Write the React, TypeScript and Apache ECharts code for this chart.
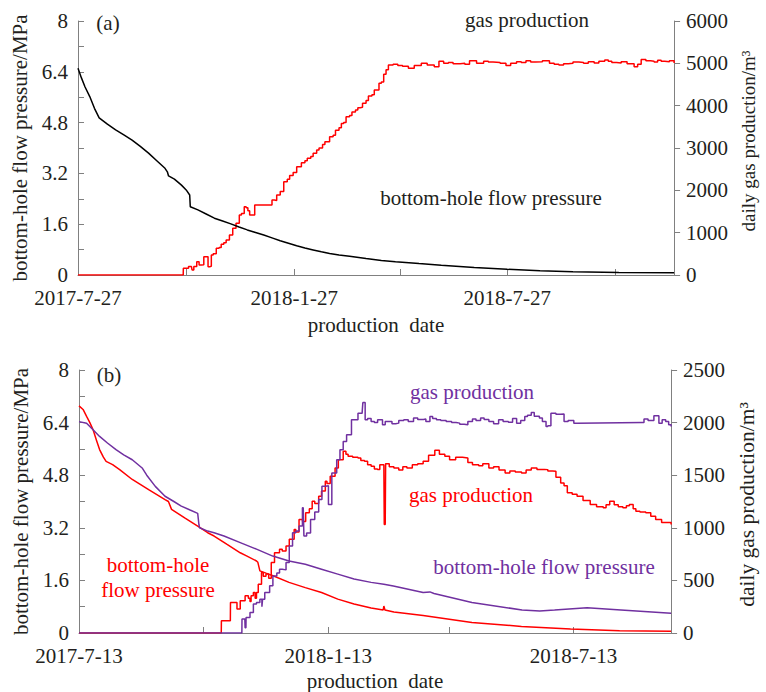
import React, { useEffect, useRef } from 'react';
import * as echarts from 'echarts';

// ---------- axis ticks / labels (x in days since first production date) ----------
const tickDaysA = [0, 92, 184, 274, 365, 457];
const labelDaysA = [0, 184, 365];
const labelTextA = ['2017-7-27', '2018-1-27', '2018-7-27'];
const maxDayA = 507;

const tickDaysB = [0, 92, 184, 273, 365];
const labelDaysB = [0, 184, 365];
const labelTextB = ['2017-7-13', '2018-1-13', '2018-7-13'];
const maxDayB = 437;

// ---------- (a) ----------
const pressureA: number[][] = [
  [0, 6.51], [3, 6.2], [6, 5.92], [10, 5.62], [14, 5.25], [18, 4.95], [25, 4.75], [32, 4.57], [39, 4.41],
  [46, 4.25], [53, 4.05], [60, 3.84], [67, 3.6], [74, 3.36], [76, 3.25], [77, 3.12], [82, 3.02], [88, 2.83],
  [92, 2.68], [95, 2.52], [95.5, 2.15], [102, 2.05], [109, 1.92], [116, 1.79], [123, 1.7], [130, 1.61],
  [137, 1.51], [144, 1.42], [151, 1.34], [158, 1.26], [165, 1.17], [172, 1.08], [179, 1.0], [186, 0.92],
  [193, 0.85], [200, 0.79], [207, 0.73], [214, 0.68], [222, 0.63], [231, 0.59], [245, 0.52], [258, 0.46],
  [270, 0.42], [290, 0.36], [309, 0.31], [337, 0.24], [365, 0.18], [393, 0.13], [421, 0.1], [460, 0.08], [507, 0.07],
];

const gasA: number[][] = [
  [0, 0], [89.5, 0], [89.6, 160], [94, 200], [96.5, 200], [97, 120], [98.5, 200], [101, 315], [103, 236], [105, 240],
  [107, 433], [110, 430], [110.6, 197], [112, 205], [113.4, 472], [115, 500], [117.6, 630], [120, 650], [121.8, 724],
  [124, 760], [126, 827], [128.8, 945], [131.6, 1102], [134.4, 1220], [137.2, 1417], [139, 1450], [141.4, 1614],
  [143, 1590], [144.5, 1520], [146, 1417], [148, 1420], [150.3, 1653], [163.7, 1653], [165, 1771], [167, 1760],
  [169, 1890], [172, 1970], [175, 2204], [178, 2260], [180, 2350], [183, 2420], [186, 2558], [190, 2650], [193, 2700],
  [195, 2760], [198, 2800], [200, 2874], [203, 2950], [205, 3000], [208, 3080], [210, 3150], [214, 3267], [217, 3300],
  [219, 3420], [222, 3480], [224, 3580], [226, 3600], [228, 3740], [231, 3770], [233, 3850], [236, 3900], [238, 3950],
  [240, 3960], [242, 4055], [245, 4120], [247, 4230], [250, 4260], [252, 4370], [256, 4528], [258, 4560], [260, 4740],
  [262, 4850], [264, 4960], [268, 4980], [272, 4950], [276, 4930], [281, 4885], [286, 4950], [292, 5000], [297, 4960],
  [303, 4920], [307, 5050], [311, 5000], [315, 5020], [319, 4990], [325, 5000], [329, 4980], [333, 5060], [339, 5000],
  [345, 5050], [349, 5030], [353, 5020], [359, 5000], [364, 4950], [368, 5000], [373, 5040], [377, 5020], [381, 5060],
  [385, 5030], [389, 5040], [395, 5060], [401, 5000], [405, 4980], [409, 4960], [413, 4990], [417, 5000], [421, 5030],
  [426, 5020], [430, 5000], [434, 5040], [439, 5010], [443, 5050], [448, 5080], [451, 5050], [454, 5020], [458, 5010],
  [462, 5040], [467, 4990], [473, 4920], [476, 4980], [479, 5090], [483, 5060], [487, 5050], [490, 5030], [493, 5070],
  [496, 5050], [499, 5040], [503, 5060], [507, 5010],
];

// ---------- (b) ----------
const pressureRedB: number[][] = [
  [0, 6.91], [3, 6.8], [5.6, 6.59], [8, 6.4], [10.4, 6.18], [13, 5.85], [15.2, 5.58], [18, 5.35], [20, 5.22],
  [24.8, 5.12], [30, 4.97], [39.3, 4.67], [51.4, 4.36], [63.5, 4.06], [66, 4.0], [68.3, 3.76], [78, 3.5], [87.6, 3.25],
  [95, 3.05], [99.7, 2.95], [109, 2.7], [119, 2.44], [124, 2.34], [131, 2.19], [132, 2.15], [133.5, 1.89], [138, 1.82],
  [143.2, 1.74], [155, 1.54], [167, 1.38], [179, 1.23], [191, 1.03], [203, 0.88], [215.6, 0.76], [224.5, 0.7],
  [225, 0.82], [225.8, 0.7], [232.4, 0.64], [254, 0.53], [290, 0.32], [326.6, 0.2], [362.8, 0.12], [399, 0.07], [437, 0.05],
];

const pressurePurpleB: number[][] = [
  [0, 6.43], [5.6, 6.38], [10, 6.2], [15.2, 5.98], [21, 5.78], [27.3, 5.58], [33, 5.42], [39.3, 5.27], [46.6, 5.02],
  [50, 4.8], [56.3, 4.46], [63.5, 4.16], [70, 4.0], [75.5, 3.86], [82, 3.74], [87.6, 3.64], [88.5, 3.3], [89, 3.2],
  [95, 3.1], [99.7, 3.05], [107, 2.95], [119, 2.75], [131, 2.55], [143, 2.34], [155, 2.19], [167, 2.09], [179, 1.94],
  [191, 1.79], [203, 1.64], [215.6, 1.54], [225, 1.48], [232, 1.43], [254, 1.23], [259, 1.25], [262, 1.2], [290, 0.93],
  [327, 0.7], [340, 0.67], [351, 0.7], [375, 0.77], [400, 0.7], [437, 0.6],
];

const gasRedB: number[][] = [
  [0, 0], [105, 0], [105.1, 117], [111.7, 117], [111.8, 290], [114, 290], [116.6, 227], [119, 306], [122.6, 353],
  [125, 330], [126.2, 300], [127, 353], [128.7, 385], [130, 330], [131, 385], [132.3, 464], [134.7, 575], [136, 540],
  [138, 560], [140, 520], [141.9, 669], [144.3, 764], [148, 795], [150, 780], [152.8, 827], [155.2, 890], [158.8, 985],
  [160, 960], [162.4, 1080], [165, 1060], [167.3, 1143], [170, 1180], [172.1, 1253], [174, 1230], [176.9, 1300],
  [179, 1350], [181.8, 1442], [183, 1420], [185.4, 1490], [189, 1569], [191.4, 1648], [195, 1727], [197, 1700],
  [198.6, 1679], [202, 1670], [205.9, 1663], [208, 1640], [210.7, 1632], [213, 1600], [215.6, 1585], [218, 1560],
  [220.3, 1553], [222, 1600], [225, 1600], [225.3, 1032], [226, 1032], [226.3, 1610], [229, 1580], [232.4, 1569],
  [236, 1550], [239, 1580], [242, 1569], [246, 1600], [250, 1610], [254, 1632], [258, 1690], [262.6, 1736], [266, 1700],
  [270, 1680], [273.5, 1648], [278, 1670], [283, 1664], [287, 1620], [290.4, 1600], [295, 1590], [298, 1610],
  [302.5, 1569], [306, 1580], [310, 1550], [314.5, 1522], [318, 1540], [322, 1530], [326.6, 1522], [330, 1550],
  [333.8, 1569], [338, 1555], [343.5, 1553], [346, 1540], [349.5, 1538], [352, 1480], [355.5, 1427], [358, 1400],
  [360.4, 1332], [364, 1320], [367.6, 1300], [372, 1260], [377.3, 1222], [382, 1200], [386.9, 1190], [389, 1220],
  [391.7, 1253], [395, 1220], [398, 1200], [401.4, 1190], [404, 1210], [406.2, 1222], [409, 1180], [411, 1158],
  [414, 1150], [418.3, 1143], [422, 1110], [425.6, 1080], [430, 1050], [437, 1032],
];

const gasPurpleB: number[][] = [
  [0, 0], [120.2, 0], [120.3, 132], [122.4, 132], [122.6, 50], [123.2, 50], [123.3, 148], [126.2, 196], [128.7, 275],
  [131, 290], [133.5, 322], [135, 250], [135.5, 322], [137.1, 385], [140.7, 448], [143.1, 543], [146, 570], [148, 606],
  [150, 600], [152.8, 669], [155.2, 827], [157.6, 954], [160, 970], [162.4, 1016], [164.9, 1190], [165.5, 1190],
  [166, 922], [168, 950], [170.9, 1080], [174, 1150], [176.9, 1269], [179.3, 1395], [182, 1400], [184.1, 1222],
  [186.6, 1522], [190.2, 1648], [192.6, 1743], [195, 1821], [197.5, 1885], [201.1, 2027], [205.9, 2090], [209, 2100],
  [209.5, 2190], [211.2, 2027], [213, 2040], [215.6, 2011], [218, 2000], [220.4, 2027], [224, 1979], [226, 2010],
  [228.8, 2011], [231, 1990], [233.7, 1995], [236, 2020], [239.7, 2027], [243, 2010], [246.9, 2043], [250, 2030],
  [254.2, 2035], [256, 2010], [259, 2058], [261, 2040], [263.8, 2027], [267, 2020], [271, 2011], [275, 2000],
  [278.3, 1995], [281, 1985], [284.3, 1979], [287, 2010], [290.4, 2035], [293, 2020], [296.4, 2043], [299, 2030],
  [302.5, 2011], [306, 1990], [309.7, 2027], [313, 2010], [316.9, 2003], [320, 2040], [323, 1995], [326, 2020],
  [329, 2058], [331, 2070], [333.8, 2095], [336, 2060], [339.8, 2043], [342, 2010], [344.7, 1963], [346, 1970],
  [348.3, 2090], [352, 2080], [355.5, 2082], [358, 2011], [361, 2020], [365.2, 1995], [367.6, 2000], [415.9, 2000],
  [417, 2035], [420, 2020], [424.3, 2066], [428, 1995], [430.4, 2027], [433, 2010], [435.2, 1979], [437, 1963],
];

const FONT = 'Liberation Serif';
const FS = 21;
const TEXT = '#231f20';
const AXIS = '#808080';
const RED = '#ff0000';
const PURPLE = '#7030a0';
const BLACK = '#000000';

const fmtPressure = (v: number) => {
  const r = Math.round(v * 10) / 10;
  return r % 1 === 0 ? String(r) : r.toFixed(1);
};

function xAxisCfg(grid: number, maxDay: number, ticks: number[], lDays: number[], lText: string[], gap: number, margin: number) {
  return {
    type: 'value', gridIndex: grid, min: 0, max: maxDay,
    name: 'production  date', nameLocation: 'middle', nameGap: gap,
    nameTextStyle: { fontFamily: FONT, fontSize: FS, color: TEXT },
    axisLine: { show: true, lineStyle: { color: AXIS, width: 1 } },
    axisTick: { show: true, inside: true, length: 6, customValues: ticks, lineStyle: { color: AXIS } },
    axisLabel: {
      customValues: lDays, margin, fontFamily: FONT, fontSize: FS, color: TEXT,
      formatter: (v: number) => { const i = lDays.indexOf(Math.round(v)); return i >= 0 ? lText[i] : ''; },
    },
    splitLine: { show: false },
  };
}

function leftAxisCfg(grid: number) {
  return {
    type: 'value', gridIndex: grid, position: 'left', min: 0, max: 8, interval: 1.6,
    name: 'bottom-hole flow pressure/MPa', nameLocation: 'middle', nameGap: 44, nameRotate: 90,
    nameTextStyle: { fontFamily: FONT, fontSize: FS, color: TEXT },
    axisLine: { show: true, lineStyle: { color: AXIS, width: 1 } },
    axisTick: { show: true, inside: true, length: 6, lineStyle: { color: AXIS } },
    minorTick: { show: true, splitNumber: 2, length: 6, lineStyle: { color: AXIS } },
    axisLabel: { margin: 10, fontFamily: FONT, fontSize: FS, color: TEXT, formatter: fmtPressure },
    splitLine: { show: false }, minorSplitLine: { show: false },
  };
}

function rightAxisCfg(grid: number, max: number, interval: number, nameSize: number, namePad: number[]) {
  return {
    type: 'value', gridIndex: grid, position: 'right', min: 0, max, interval,
    name: 'daily gas production/m\u00b3', nameLocation: 'middle', nameGap: 63, nameRotate: 90,
    nameTextStyle: { fontFamily: FONT, fontSize: nameSize, color: TEXT, padding: namePad },
    axisLine: { show: true, lineStyle: { color: AXIS, width: 1 } },
    axisTick: { show: true, inside: false, length: 6, lineStyle: { color: AXIS } },
    axisLabel: { margin: 12, fontFamily: FONT, fontSize: FS, color: TEXT, formatter: (v: number) => String(v) },
    splitLine: { show: false },
  };
}

function lineSeries(name: string, data: number[][], color: string, xi: number, yi: number, step?: string) {
  return {
    type: 'line', name, data, xAxisIndex: xi, yAxisIndex: yi, showSymbol: false, symbol: 'none',
    step: step || false, lineStyle: { color, width: 1.5 }, itemStyle: { color }, silent: true,
  };
}

function label(text: string, x: number, y: number, color: string) {
  return {
    type: 'text', x, y, silent: true,
    style: {
      text, fill: color, fontFamily: FONT, fontSize: FS,
      textAlign: 'center', textVerticalAlign: 'middle', align: 'center', verticalAlign: 'middle',
    },
  };
}

export default function App() {
  const ref = useRef<HTMLDivElement>(null);
  useEffect(() => {
    if (!ref.current) return;
    const chart = echarts.init(ref.current, undefined, { renderer: 'svg' });
    chart.setOption({
      animation: false,
      backgroundColor: '#ffffff',
      textStyle: { fontFamily: FONT },
      grid: [
        { left: 78, top: 21, width: 605, height: 254 },
        { left: 79, top: 370, width: 604, height: 264 },
      ],
      xAxis: [
        xAxisCfg(0, maxDayA, tickDaysA, labelDaysA, labelTextA, 39, 12),
        xAxisCfg(1, maxDayB, tickDaysB, labelDaysB, labelTextB, 37, 12),
      ],
      yAxis: [
        leftAxisCfg(0),
        rightAxisCfg(0, 6000, 1000, 19, [0, 0, 0, 14]),
        leftAxisCfg(1),
        rightAxisCfg(1, 2500, 500, 21.5, [0, 6, 0, 0]),
      ],
      series: [
        lineSeries('gas production (a)', gasA, RED, 0, 1, 'end'),
        lineSeries('bottom-hole flow pressure (a)', pressureA, BLACK, 0, 0),
        lineSeries('gas production red (b)', gasRedB, RED, 1, 3, 'end'),
        lineSeries('bottom-hole flow pressure red (b)', pressureRedB, RED, 1, 2),
        lineSeries('gas production purple (b)', gasPurpleB, PURPLE, 1, 3, 'end'),
        lineSeries('bottom-hole flow pressure purple (b)', pressurePurpleB, PURPLE, 1, 2),
      ],
      graphic: [
        label('(a)', 108, 23, TEXT),
        label('gas production', 527, 20, TEXT),
        label('bottom-hole flow pressure', 491, 198, TEXT),
        label('(b)', 109, 375, TEXT),
        label('gas production', 472, 392, PURPLE),
        label('gas production', 471, 495, RED),
        label('bottom-hole flow pressure', 544, 567, PURPLE),
        label('bottom-hole', 158, 565, RED),
        label('flow pressure', 158, 590, RED),
      ],
    });
    return () => chart.dispose();
  }, []);
  return <div ref={ref} style={{ position: 'absolute', left: 0, top: 0, width: 766, height: 692 }} />;
}
